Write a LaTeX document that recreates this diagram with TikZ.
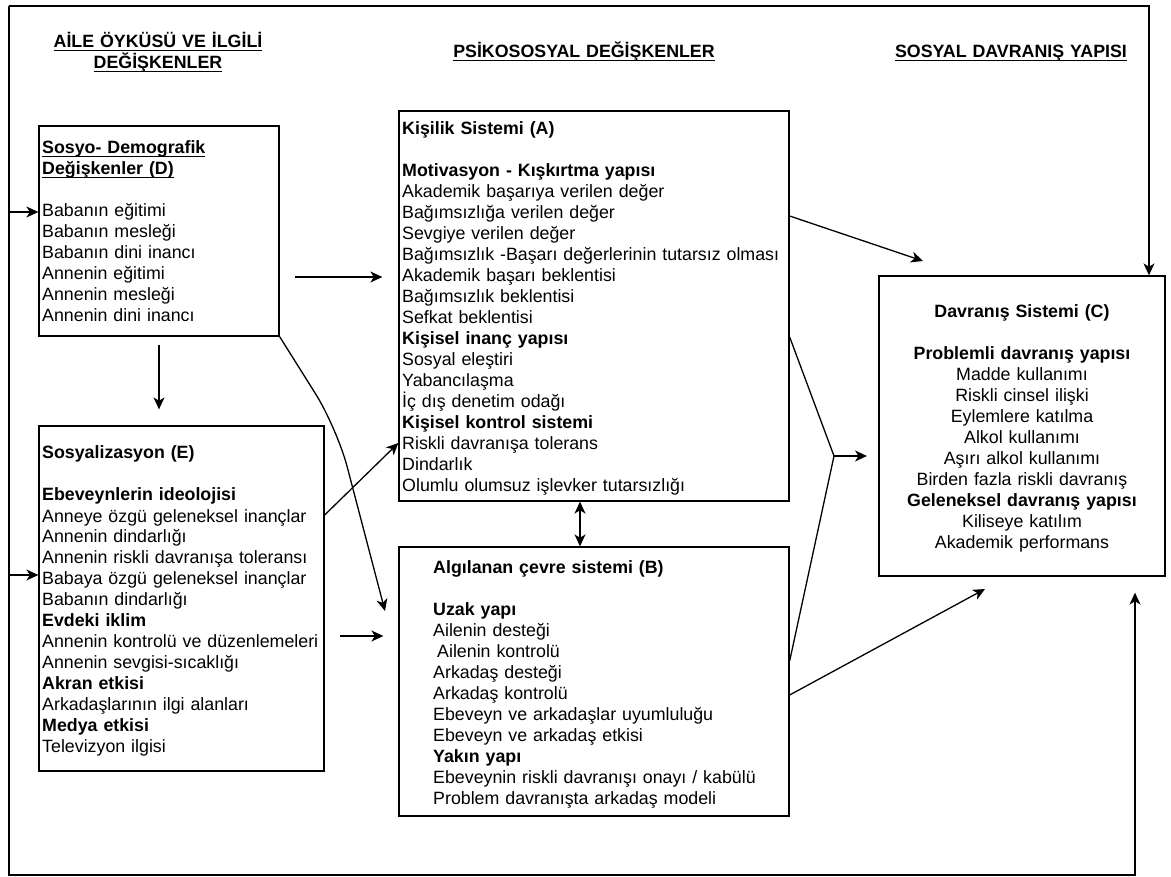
\documentclass[tikz,border=0pt]{standalone}
\usepackage{fontspec}
\setmainfont{Liberation Sans}
\usetikzlibrary{arrows.meta}
\newcommand\myul[1]{\leavevmode\setbox0=\hbox{#1}\rlap{\rule[-2.8pt]{\wd0}{1.1pt}}\box0}
\newcommand\fsz{\fontsize{17.8}{21}\selectfont}
\begin{document}
\begin{tikzpicture}[x=1pt,y=-1pt,
  box/.style={draw, line width=1.3pt, inner sep=0pt},
  body/.style={inner sep=0pt, anchor=base west, align=left, font=\fsz},
  cbody/.style={inner sep=0pt, anchor=base, align=center, font=\fsz},
  line/.style={line width=1.3pt},
  arr/.style={line width=1.3pt, -{Stealth[length=12pt,width=11pt,inset=3.5pt]}},
  darr/.style={line width=1.3pt, {Stealth[length=12pt,width=11pt,inset=3.5pt]}-{Stealth[length=12pt,width=11pt,inset=3.5pt]}}]
\useasboundingbox (0,0) rectangle (1171,877);
\fill[white] (0,0) rectangle (1171,877);

% headers
\node[cbody, text width=300pt] (H1) at (158,48) {\myul{\textbf{AİLE ÖYKÜSÜ VE İLGİLİ}}\\\myul{\textbf{DEĞİŞKENLER}}};
\node[cbody, text width=300pt] (H2) at (584,58) {\myul{\textbf{PSİKOSOSYAL DEĞİŞKENLER}}};
\node[cbody, text width=300pt] (H3) at (1011,58) {\myul{\textbf{SOSYAL DAVRANIŞ YAPISI}}};

% boxes
\node[box, minimum width=240pt, minimum height=210pt] (D) at (159,231) {};
\node[box, minimum width=285pt, minimum height=345pt] (E) at (181.5,598.5) {};
\node[box, minimum width=390pt, minimum height=390pt] (A) at (594,306) {};
\node[box, minimum width=390pt, minimum height=269pt] (B) at (594,681.5) {};
\node[box, minimum width=286pt, minimum height=300pt] (C) at (1022,426) {};

% texts
\node[body, text width=235pt] (Dt) at (42,154) {\myul{\textbf{Sosyo- Demografik}}\\\myul{\textbf{Değişkenler (D)}}\\[21pt]Babanın eğitimi\\Babanın mesleği\\Babanın dini inancı\\Annenin eğitimi\\Annenin mesleği\\Annenin dini inancı};

\node[body, text width=280pt] (Et) at (42,459) {\textbf{Sosyalizasyon (E)}\\[21pt]\textbf{Ebeveynlerin ideolojisi}\\Anneye özgü geleneksel inançlar\\Annenin dindarlığı\\Annenin riskli davranışa toleransı\\Babaya özgü geleneksel inançlar\\Babanın dindarlığı\\\textbf{Evdeki iklim}\\Annenin kontrolü ve düzenlemeleri\\Annenin sevgisi-sıcaklığı\\\textbf{Akran etkisi}\\Arkadaşlarının ilgi alanları\\\textbf{Medya etkisi}\\Televizyon ilgisi};

\node[body, text width=385pt] (At) at (402,135) {\textbf{Kişilik Sistemi (A)}\\[21pt]\textbf{Motivasyon - Kışkırtma yapısı}\\Akademik başarıya verilen değer\\Bağımsızlığa verilen değer\\Sevgiye verilen değer\\Bağımsızlık -Başarı değerlerinin tutarsız olması\\Akademik başarı beklentisi\\Bağımsızlık beklentisi\\Sefkat beklentisi\\\textbf{Kişisel inanç yapısı}\\Sosyal eleştiri\\Yabancılaşma\\İç dış denetim odağı\\\textbf{Kişisel kontrol sistemi}\\Riskli davranışa tolerans\\Dindarlık\\Olumlu olumsuz işlevker tutarsızlığı};

\node[body, text width=350pt] (Bt) at (433,573) {\textbf{Algılanan çevre sistemi (B)}\\[21pt]\textbf{Uzak yapı}\\Ailenin desteği\\\hspace*{4pt}Ailenin kontrolü\\Arkadaş desteği\\Arkadaş kontrolü\\Ebeveyn ve arkadaşlar uyumluluğu\\Ebeveyn ve arkadaş etkisi\\\textbf{Yakın yapı}\\Ebeveynin riskli davranışı onayı / kabülü\\Problem davranışta arkadaş modeli};

\node[cbody, text width=286pt] (Ct) at (1022,318) {\textbf{Davranış Sistemi (C)}\\[21pt]\textbf{Problemli davranış yapısı}\\Madde kullanımı\\Riskli cinsel ilişki\\Eylemlere katılma\\Alkol kullanımı\\Aşırı alkol kullanımı\\Birden fazla riskli davranış\\\textbf{Geleneksel davranış yapısı}\\Kiliseye katılım\\Akademik performans};

% frame
\coordinate (FTL) at (9,6);
\coordinate (FTR) at (1149,6);
\coordinate (FBL) at (9,875);
\coordinate (FBR) at (1135,875);
\draw[arr] (FTL) -- (FTR) -- (FTR |- C.north);
\draw[arr, shorten >=16pt] (FTL) -- (FBL) -- (FBR) -- (FBR |- C.south);
\draw[arr] (FTL |- 0,212) -- (D.west |- 0,212);
\draw[arr] (FTL |- 0,575) -- (E.west |- 0,575);

% connectors
\draw[arr, shorten <=8pt, shorten >=16pt] (D.south) -- (D.south |- E.north);
\draw[arr, shorten <=15pt, shorten >=16pt] (D.east |- 0,277) -- (A.west |- 0,277);
\coordinate (Bk) at (337,428);
\coordinate (Bin) at (385,611);
\draw[arr, rounded corners=40pt] (D.south east) -- (Bk) -- (Bin);
\draw[arr] (E.east |- 0,515) -- (A.west |- 0,443);
\draw[arr, shorten <=15pt, shorten >=15pt] (E.east |- 0,636) -- (B.west |- 0,636);
\draw[darr] ([xshift=-14pt]A.south) -- ([xshift=-14pt]B.north);
\coordinate (Cin1) at (923,261);
\draw[arr] (A.east |- 0,216) -- (Cin1);
\coordinate (J) at (834,456);
\coordinate (Cin2) at (867,456);
\draw[line] (A.east |- 0,337) -- (J) -- (B.east |- 0,661);
\draw[arr] (J) -- (Cin2);
\coordinate (Cin3) at (985,589);
\draw[arr] (B.east |- 0,695) -- (Cin3);
\end{tikzpicture}
\end{document}
